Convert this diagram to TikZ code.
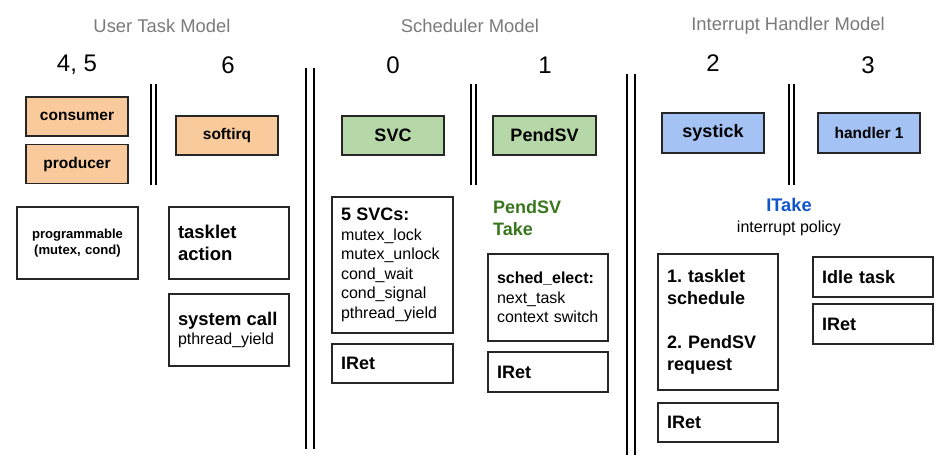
\documentclass[tikz,border=0pt]{standalone}
\usepackage{fontspec}
\setmainfont{Liberation Sans}
\definecolor{taskorange}{HTML}{F9CB9C}
\definecolor{schedgreen}{HTML}{B6D7A8}
\definecolor{irqblue}{HTML}{A4C2F4}
\definecolor{takegreen}{HTML}{38761D}
\definecolor{takeblue}{HTML}{1155CC}
\definecolor{titlegrey}{HTML}{7A7A7A}
\begin{document}
\frenchspacing
\begin{tikzpicture}[x=1pt, y=-1pt,
  title/.style={text=titlegrey, font=\fontsize{18.4}{22}\selectfont},
  prio/.style={font=\fontsize{24}{28}\selectfont},
  colbox/.style={draw=black!85, line width=1.1pt, minimum width=102pt, minimum height=39pt,
    inner sep=0pt, font=\bfseries\fontsize{15.5}{18}\selectfont},
  bigname/.style={font=\bfseries\fontsize{18}{22}\selectfont},
  infobox/.style={draw=black!85, line width=1.3pt, inner xsep=9pt, inner ysep=0pt,
    text width=102pt, align=left, font=\fontsize{16}{19.5}\selectfont},
  sep/.style={black, line width=1.1pt}]
  \useasboundingbox (0,0) rectangle (951,470);

  % model titles and priorities
  \node[title] (usertitle) at (162,26) {User Task Model};
  \node[title] (schedtitle) at (470,26) {Scheduler Model};
  \node[title] (irqtitle) at (788,26) {Interrupt Handler Model};
  \node[prio] (p45) at (77,65) {4, 5};
  \node[prio] (p6) at (228,65) {6};
  \node[prio] (p0) at (393,65) {0};
  \node[prio] (p1) at (545,65) {1};
  \node[prio] (p2) at (713,63) {2};
  \node[prio] (p3) at (868,65) {3};

  % separators
  \foreach \x in {151,156,471,476,789,794}
    \draw[sep] (\x,84) -- (\x,185);
  \foreach \x in {306,314}
    \draw[sep] (\x,68) -- (\x,449);
  \foreach \x in {627,635}
    \draw[sep] (\x,74) -- (\x,455);

  % user tasks
  \node[colbox, fill=taskorange] (consumer) at (77,116.5) {consumer};
  \node[colbox, fill=taskorange] (producer) at (77,164) {producer};
  \node[colbox, fill=taskorange] (softirq) at (227,135.5) {softirq};
  \node[infobox, text width=103pt, minimum height=72pt, align=center, font=\bfseries\fontsize{13.1}{16}\selectfont]
    (progbox) at (77.5,243) {programmable\\(mutex, cond)};
  \node[infobox, minimum height=72pt, font=\bfseries\fontsize{18.5}{22}\selectfont]
    (taskletbox) at (229,243) {tasklet\\action};
  \node[infobox, minimum height=72pt] (syscallbox) at (229,330)
    {{\bfseries\fontsize{18.4}{22}\selectfont system call}\\pthread\_yield};

  % scheduler
  \node[colbox, bigname, fill=schedgreen] (svc) at (393,135.5) {SVC};
  \node[colbox, bigname, fill=schedgreen, minimum width=103pt] (pendsv) at (544.5,135.5) {PendSV};
  \node[infobox, text width=103pt, minimum height=136pt] (svcbox) at (392.5,265)
    {{\bfseries\fontsize{18}{22}\selectfont 5 SVCs:}\\mutex\_lock\\mutex\_unlock\\cond\_wait\\cond\_signal\\pthread\_yield};
  \node[infobox, text width=103pt, bigname, minimum height=39pt] (iretsvc) at (392.5,363.5) {IRet};
  \node[anchor=west, inner sep=0pt, align=left, text=takegreen, bigname] (pendtake) at (493,218.5) {PendSV\\Take};
  \node[infobox, minimum height=87pt] (electbox) at (548,297.5)
    {\textbf{sched\_elect:}\\next\_task\\context switch};
  \node[infobox, bigname, minimum height=40pt] (iretpend) at (548,372) {IRet};

  % interrupt handlers
  \node[colbox, bigname, fill=irqblue, minimum height=40pt] (systick) at (713,133) {systick};
  \node[colbox, fill=irqblue, minimum height=40pt] (handler) at (869,133) {handler 1};
  \node[align=center, inner sep=0pt, font=\fontsize{16}{21}\selectfont] (itake) at (789,217.5)
    {{\color{takeblue}\bfseries\fontsize{18.3}{21}\selectfont ITake}\\interrupt policy};
  \node[infobox, bigname, minimum height=136pt] (tickbox) at (718,322)
    {1. tasklet\\schedule\\[22pt]2. PendSV\\request};
  \node[infobox, bigname, minimum height=39pt] (irettick) at (718,422.5) {IRet};
  \node[infobox, bigname, minimum height=40pt] (idlebox) at (873,277) {Idle task};
  \node[infobox, bigname, minimum height=40pt] (iretidle) at (873,324) {IRet};
\end{tikzpicture}
\end{document}
